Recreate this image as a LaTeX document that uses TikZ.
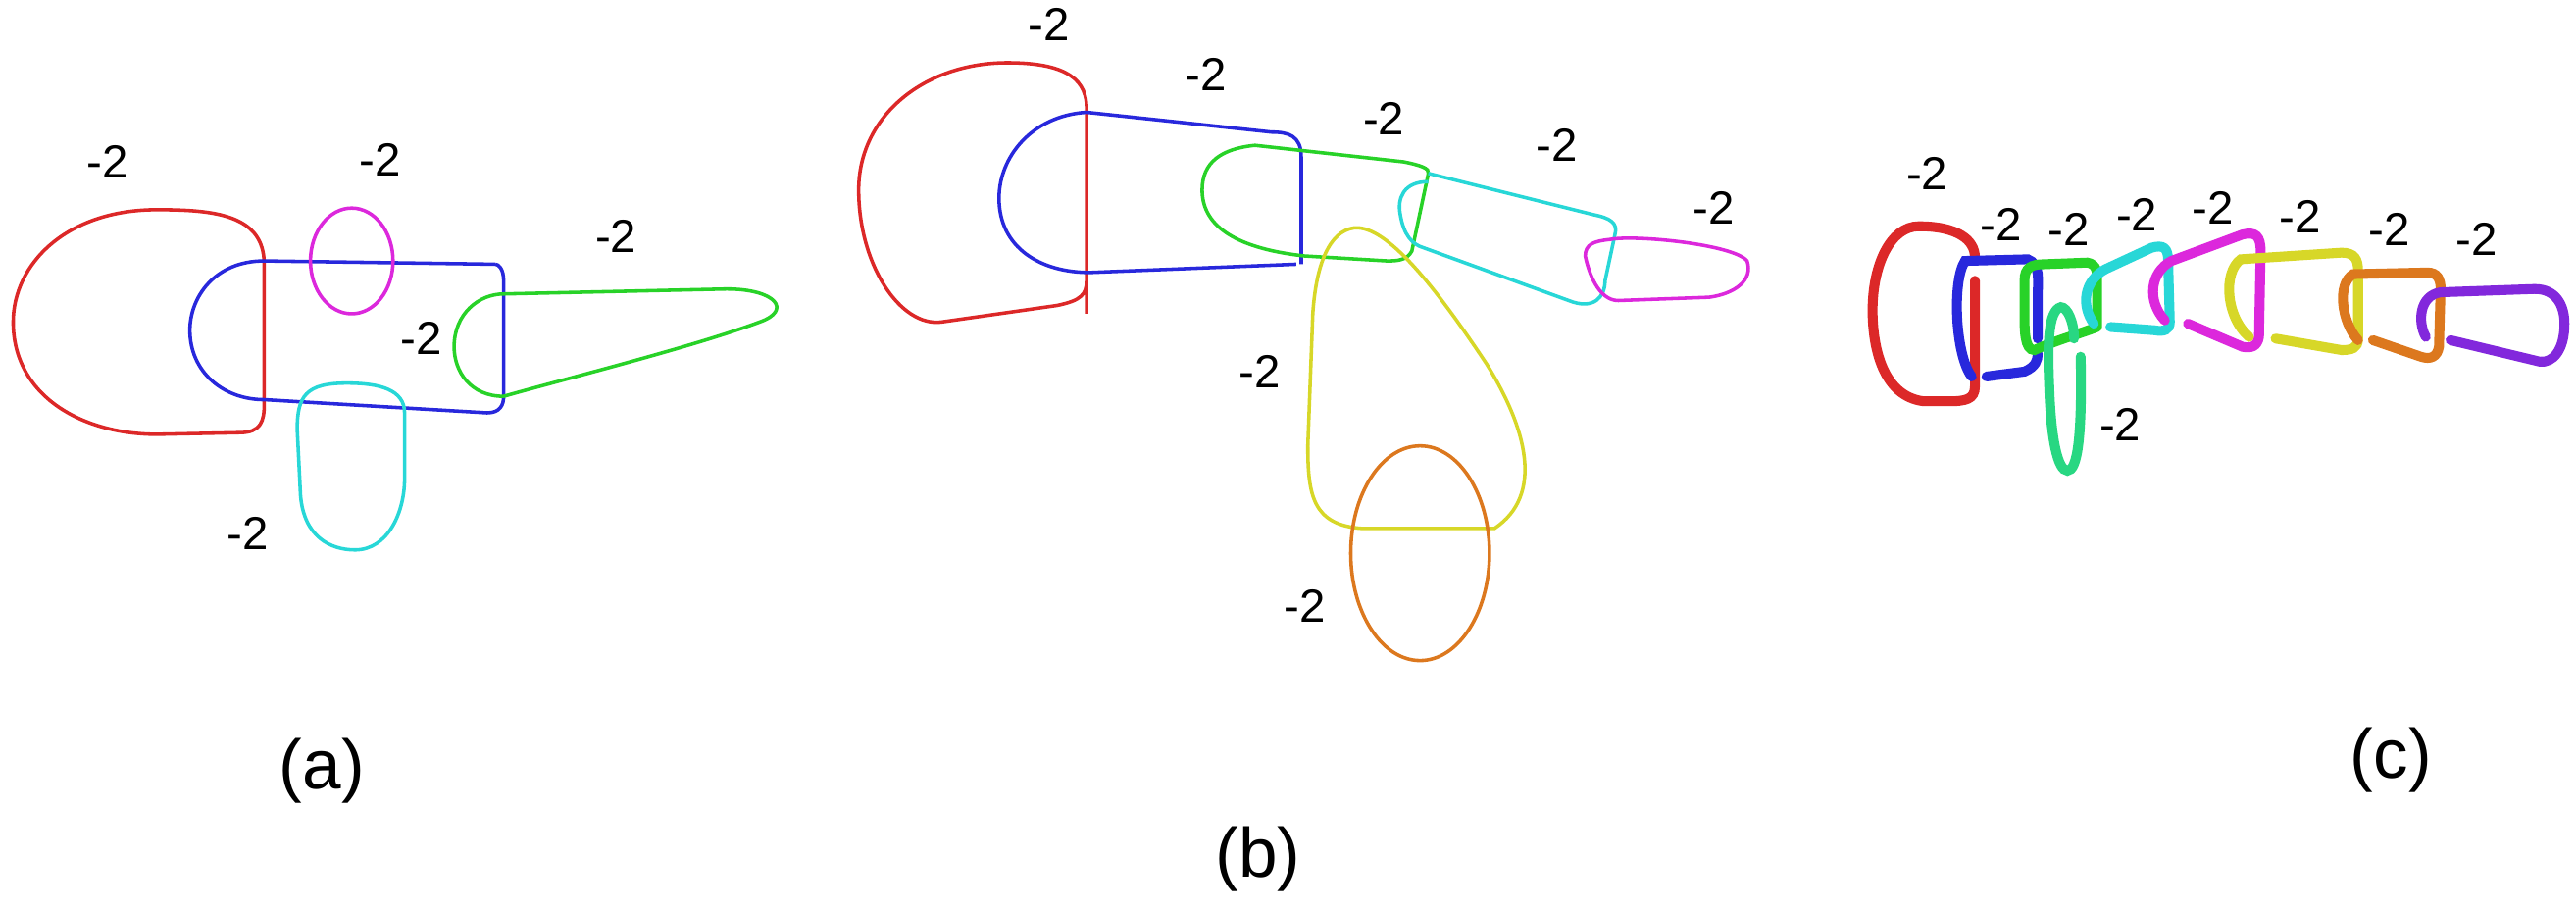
\documentclass[tikz,border=0pt]{standalone}
\usepackage{fontspec}
\setmainfont{Liberation Sans}
\definecolor{rd}{RGB}{220,40,40}
\definecolor{bl}{RGB}{40,40,220}
\definecolor{gr}{RGB}{40,210,40}
\definecolor{sg}{RGB}{40,215,130}
\definecolor{cy}{RGB}{40,215,215}
\definecolor{mg}{RGB}{220,40,220}
\definecolor{yl}{RGB}{215,215,40}
\definecolor{or}{RGB}{220,120,30}
\definecolor{pu}{RGB}{130,40,220}
\tikzset{knotthin/.style={line width=0.6pt},knotthick/.style={line width=1.7pt,line cap=round},
lab/.style={font=\fontsize{8}{9}\selectfont,inner sep=0pt},
capt/.style={font=\fontsize{12}{14}\selectfont,inner sep=0pt}}
\begin{document}
\begin{tikzpicture}[x=0.01cm,y=-0.01cm]
\useasboundingbox (0,0) rectangle (1560,551);
% (a)
\draw[knotthin,rd] (160,245) -- (160,160) .. controls (160,130) and (130,127) .. (95,127) .. controls (40,127) and (8,160) .. (8,195) .. controls (8,240) and (50,263) .. (95,263) -- (145,262) .. controls (158,262) and (160,255) .. (160,245);
\draw[knotthin,bl] (300,160) -- (160,158) .. controls (130,158) and (115,180) .. (115,200) .. controls (115,225) and (135,242) .. (160,242) -- (295,250) .. controls (303,250) and (305,245) .. (305,240) -- (305,170) .. controls (305,163) and (302,160) .. (300,160);
\draw[knotthin,mg] (213,158) ellipse [x radius=25,y radius=32];
\draw[knotthin,cy] (210,232) .. controls (185,232) and (180,240) .. (180,260) -- (182,300) .. controls (184,325) and (200,333) .. (215,333) .. controls (235,333) and (245,310) .. (245,290) -- (245,250) .. controls (245,236) and (230,232) .. (210,232);
\draw[knotthin,gr] (305,240) .. controls (285,240) and (275,225) .. (275,210) .. controls (275,190) and (290,178) .. (305,178) -- (440,175) .. controls (470,175) and (480,188) .. (460,195) .. controls (420,210) and (340,230) .. (305,240);
\node[lab] (la1) at (65,98) {-2};
\node[lab] (la2) at (230,97) {-2};
\node[lab] (la3) at (373,143) {-2};
\node[lab] (la4) at (255,205) {-2};
\node[lab] (la5) at (150,323) {-2};
\node[capt] (ca) at (195,467) {(a)};
% (b)
\draw[knotthin,rd] (658,190) -- (658,65) .. controls (658,45) and (640,38) .. (610,38) .. controls (560,38) and (520,70) .. (520,115) .. controls (520,160) and (545,198) .. (570,195) -- (640,185) .. controls (655,182) and (658,178) .. (658,170);
\draw[knotthin,bl] (788,160) -- (788,95) .. controls (788,82) and (780,80) .. (770,80) -- (658,68) .. controls (625,70) and (605,95) .. (605,120) .. controls (605,150) and (630,165) .. (660,165) -- (785,160);
\draw[knotthin,gr] (865,105) -- (855,152) .. controls (852,158) and (845,158) .. (840,158) -- (790,155) .. controls (745,150) and (728,135) .. (728,115) .. controls (728,98) and (740,90) .. (760,88) -- (850,98) .. controls (860,100) and (866,102) .. (865,105);
\draw[knotthin,cy] (865,110) .. controls (850,110) and (846,120) .. (848,130) .. controls (850,142) and (855,148) .. (862,150) -- (950,182) .. controls (965,188) and (972,180) .. (972,170) -- (978,142) .. controls (980,135) and (975,132) .. (965,130) -- (865,105);
\draw[knotthin,mg] (975,145) .. controls (990,142) and (1050,148) .. (1058,158) .. controls (1062,170) and (1050,178) .. (1035,180) -- (980,182) .. controls (968,182) and (962,165) .. (960,155) .. controls (960,148) and (965,146) .. (975,145);
\draw[knotthin,yl] (825,320) .. controls (795,318) and (792,300) .. (792,270) -- (795,190) .. controls (797,160) and (805,140) .. (820,138) .. controls (840,136) and (870,175) .. (900,220) .. controls (925,260) and (935,300) .. (905,320) -- (825,320);
\draw[knotthin,or] (860,335) ellipse [x radius=42,y radius=65];
\node[lab] (lb1) at (635,15) {-2};
\node[lab] (lb2) at (730,45) {-2};
\node[lab] (lb3) at (838,72) {-2};
\node[lab] (lb4) at (943,88) {-2};
\node[lab] (lb5) at (1038,126) {-2};
\node[lab] (lb6) at (763,225) {-2};
\node[lab] (lb7) at (790,367) {-2};
\node[capt] (cb) at (762,520) {(b)};
% (c)
\draw[knotthick,rd] (1196,170) -- (1196,234) .. controls (1196,242) and (1190,243) .. (1180,243) -- (1165,243) .. controls (1140,240) and (1134,210) .. (1134,188) .. controls (1134,160) and (1145,137) .. (1162,137) .. controls (1185,137) and (1196,145) .. (1196,156);
\draw[knotthick,bl] (1194,228) .. controls (1184,215) and (1182,170) .. (1190,158) -- (1228,157) .. controls (1236,160) and (1234,170) .. (1234,180) -- (1234,205);
\draw[knotthick,bl] (1203,228) -- (1226,225) .. controls (1233,222) and (1234,218) .. (1234,214);
\draw[knotthick,gr] (1270,198) .. controls (1260,202) and (1245,206) .. (1232,212) .. controls (1226,212) and (1226,200) .. (1226,190) -- (1226,170) .. controls (1226,162) and (1230,160) .. (1238,160) -- (1264,159) .. controls (1270,160) and (1270,165) .. (1270,170) -- (1270,198);
\draw[knotthick,sg] (1256,205) .. controls (1256,195) and (1252,186) .. (1248,186) .. controls (1240,188) and (1240,210) .. (1241,235) .. controls (1242,265) and (1246,285) .. (1252,285) .. controls (1258,285) and (1261,265) .. (1260,216);
\draw[knotthick,cy] (1268,196) .. controls (1260,185) and (1262,170) .. (1275,163) -- (1303,150) .. controls (1310,148) and (1313,150) .. (1313,158) -- (1314,195) .. controls (1314,200) and (1310,201) .. (1305,200) -- (1278,198);
\draw[knotthick,mg] (1311,194) .. controls (1300,182) and (1302,165) .. (1315,158) -- (1358,142) .. controls (1366,140) and (1369,143) .. (1369,152) -- (1368,204) .. controls (1367,210) and (1363,211) .. (1358,210) -- (1325,196);
\draw[knotthick,yl] (1362,204) .. controls (1348,192) and (1346,165) .. (1357,157) -- (1418,153) .. controls (1426,153) and (1428,157) .. (1428,164) -- (1428,205) .. controls (1428,211) and (1424,212) .. (1418,212) -- (1378,205);
\draw[knotthick,or] (1428,206) .. controls (1418,195) and (1415,172) .. (1425,166) -- (1470,165) .. controls (1476,165) and (1478,169) .. (1478,175) -- (1477,210) .. controls (1476,216) and (1472,218) .. (1466,216) -- (1437,206);
\draw[knotthick,pu] (1469,204) .. controls (1464,195) and (1465,179) .. (1478,177) -- (1535,175) .. controls (1548,175) and (1553,185) .. (1553,196) .. controls (1553,212) and (1546,220) .. (1538,219) -- (1484,206);
\node[lab] (lc1) at (1167,105) {-2};
\node[lab] (lc2) at (1212,136) {-2};
\node[lab] (lc3) at (1253,139) {-2};
\node[lab] (lc4) at (1294,130) {-2};
\node[lab] (lc5) at (1340,126) {-2};
\node[lab] (lc6) at (1393,131) {-2};
\node[lab] (lc7) at (1447,139) {-2};
\node[lab] (lc8) at (1500,145) {-2};
\node[lab] (lc9) at (1284,257) {-2};
\node[capt] (cc) at (1448,460) {(c)};
\end{tikzpicture}
\end{document}
